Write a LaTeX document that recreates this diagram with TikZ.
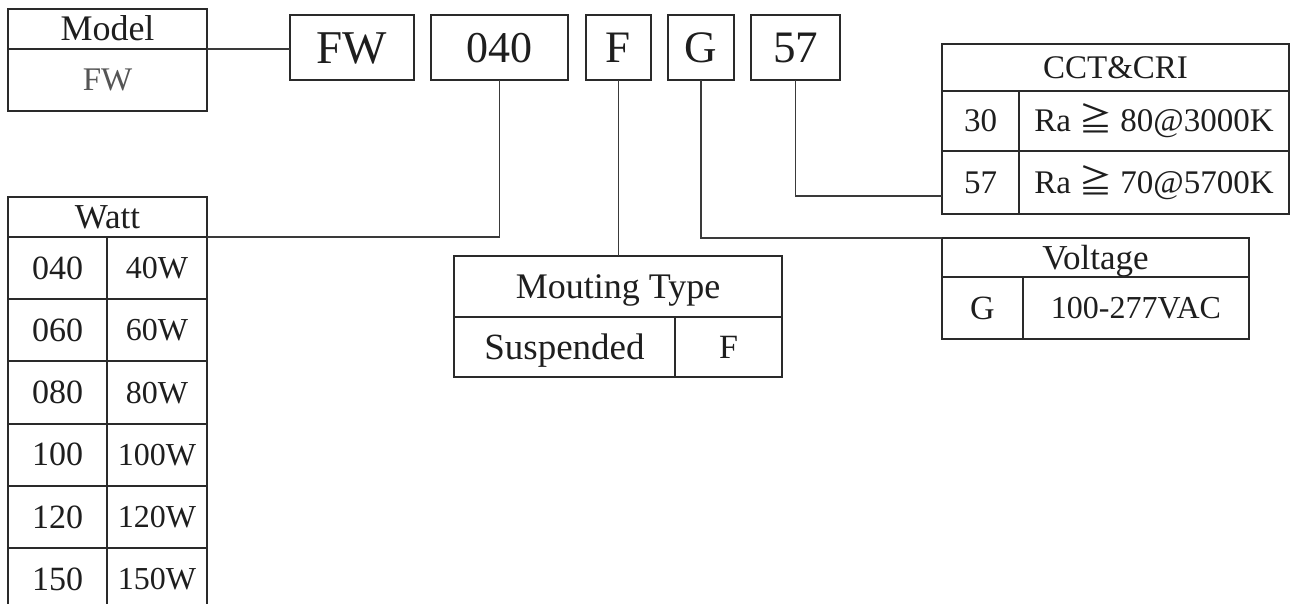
\documentclass[tikz,border=0pt]{standalone}
\usepackage{fontspec}
\setmainfont{Liberation Serif}
\newfontfamily\cjkfont{Noto Sans CJK SC}
\definecolor{bordc}{HTML}{2A2A2A}
\definecolor{linec}{HTML}{3A3A3A}
\definecolor{textc}{HTML}{1E1E1E}
\definecolor{grayc}{HTML}{555555}
\newcommand\fs[1]{\fontsize{#1}{#1}\selectfont}
\begin{document}
\begin{tikzpicture}[x=1pt,y=-1pt,
  fsz/.style={font=\fs{#1}, text height={0.66*#1 pt}, text depth=0pt},
  cell/.style={draw=bordc, line width=1.9pt, anchor=north west, inner sep=0pt, outer sep=0pt, text=textc, fsz=34},
  codebox/.style={draw=bordc, line width=1.6pt, anchor=north west, inner sep=0pt, outer sep=0pt, text=textc, fsz=45, minimum height=65pt},
  link/.style={draw=linec, line width=1.8pt}]
\clip (0,0) rectangle (1290,603);
\fill[white] (0,0) rectangle (1290,603);

% Model table
\node[cell, minimum width=199pt, minimum height=40pt, fsz=36] (modelhead) at (8,9) {Model};
\node[cell, minimum width=199pt, minimum height=62pt, fsz=33, text=grayc] (modelval) at (8,49) {FW};

% code boxes
\node[codebox, minimum width=124pt, fsz=47] (bFW) at (290,15) {FW};
\node[codebox, minimum width=137pt, fsz=44] (b040) at (431,15) {040};
\node[codebox, minimum width=65pt] (bF) at (586,15) {F};
\node[codebox, minimum width=66pt] (bG) at (668,15) {G};
\node[codebox, minimum width=89pt] (b57) at (751,15) {57};

% Watt table
\node[cell, minimum width=199pt, minimum height=40pt, fsz=35] (watthead) at (8,197) {Watt};
\foreach \c/\v [count=\i] in {040/40W,060/60W,080/80W,100/100W,120/120W,150/150W}{
  \node[cell, minimum width=99pt, minimum height=62.2pt] (wc\i) at (8,{237+62.2*(\i-1)}) {\c};
  \node[cell, minimum width=100pt, minimum height=62.2pt, fsz=32] (wv\i) at (107,{237+62.2*(\i-1)}) {\v};
}

% Mounting type table
\node[cell, minimum width=328pt, minimum height=61pt, fsz=36] (mount) at (454,256) {Mouting Type};
\node[cell, minimum width=221pt, minimum height=60pt, fsz=37] (mountsus) at (454,317) {Suspended};
\node[cell, minimum width=107pt, minimum height=60pt] (mountF) at (675,317) {F};

% CCT & CRI table
\node[cell, minimum width=347pt, minimum height=47pt, fsz=33] (cct) at (942,44) {CCT\&CRI};
\node[cell, minimum width=77pt, minimum height=60pt, fsz=33] (cct30) at (942,91) {30};
\node[cell, minimum width=270pt, minimum height=60pt, fsz=33] (cct30v) at (1019,91) {Ra {\cjkfont ≧} 80@3000K};
\node[cell, minimum width=77pt, minimum height=63pt, fsz=33] (cct57) at (942,151) {57};
\node[cell, minimum width=270pt, minimum height=63pt, fsz=33] (cct57v) at (1019,151) {Ra {\cjkfont ≧} 70@5700K};

% Voltage table
\node[cell, minimum width=307pt, minimum height=39pt, fsz=35] (volthead) at (942,238) {Voltage};
\node[cell, minimum width=81pt, minimum height=62pt] (voltG) at (942,277) {G};
\node[cell, minimum width=226pt, minimum height=62pt, fsz=32] (voltv) at (1023,277) {100-277VAC};

% connectors
\coordinate (c57) at (942,196);
\draw[link] (modelhead.south east) -- (modelhead.south east -| bFW.west);
\draw[link] (b040.south) |- (watthead.south east);
\draw[link] (bF.south) -- (bF.south |- mount.north);
\draw[link] (bG.south) |- (volthead.north west);
\draw[link] (b57.south) |- (c57);
\end{tikzpicture}
\end{document}
